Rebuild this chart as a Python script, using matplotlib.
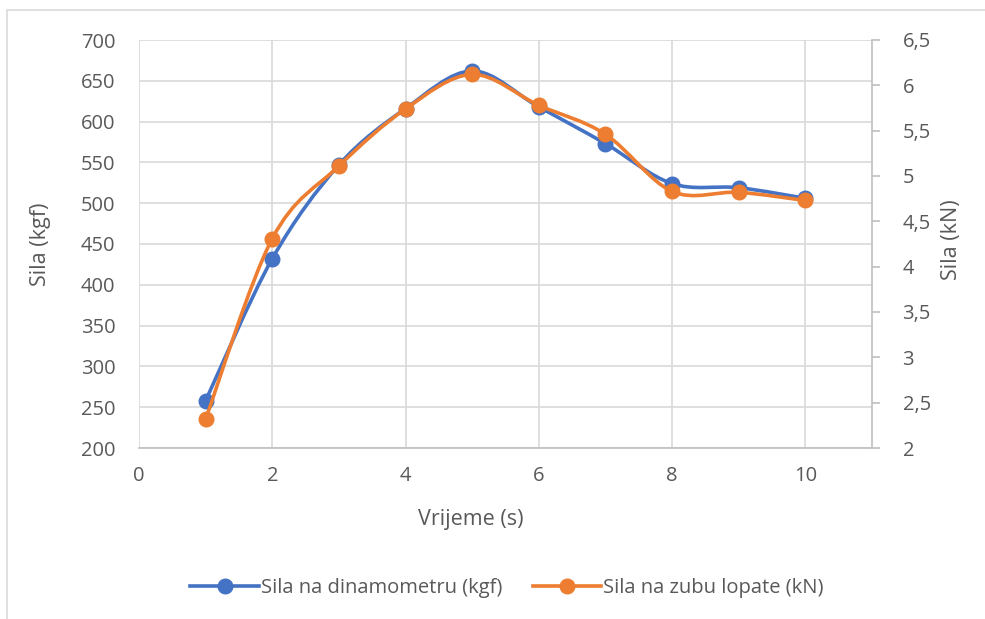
import numpy as np
import matplotlib
matplotlib.use('Agg')
import matplotlib.pyplot as plt
from matplotlib.path import Path
from matplotlib.patches import PathPatch, Rectangle
from matplotlib.lines import Line2D
from matplotlib.ticker import FuncFormatter

# Data
vrijeme = [1, 2, 3, 4, 5, 6, 7, 8, 9, 10]
sila_kgf = [258, 432, 547, 616, 662, 618, 573, 524, 519, 506]
sila_kn = [2.32, 4.31, 5.11, 5.74, 6.12, 5.78, 5.46, 4.83, 4.82, 4.73]

lbl_kgf = 'Sila na dinamometru (kgf)'
lbl_kn = 'Sila na zubu lopate (kN)'

BLUE = '#4472C4'
ORANGE = '#ED7D31'
GRID = '#D9D9D9'
TXT = '#595959'

plt.rcParams['font.family'] = ['Open Sans', 'DejaVu Sans']
plt.rcParams['font.size'] = 14.5


def smooth_path(x, y):
    """Excel-like smoothed line: cubic Bezier segments through the points."""
    pts = np.column_stack([x, y]).astype(float)
    n = len(pts)
    verts = [pts[0]]
    codes = [Path.MOVETO]
    for i in range(n - 1):
        p0 = pts[i - 1] if i > 0 else pts[i]
        p1 = pts[i]
        p2 = pts[i + 1]
        p3 = pts[i + 2] if i + 2 < n else pts[i + 1]
        c1 = p1 + (p2 - p0) / 6.0
        c2 = p2 - (p3 - p1) / 6.0
        verts += [c1, c2, p2]
        codes += [Path.CURVE4] * 3
    return Path(verts, codes)


fig = plt.figure(figsize=(9.85, 6.19), dpi=100)
ax1 = fig.add_axes([139 / 985, 1 - 448 / 619, (872 - 139) / 985, (448 - 40) / 619])
ax2 = ax1.twinx()

# outer chart frame
fig.patches.append(Rectangle((7 / 985, -0.2), 2, 1.2 - 10 / 619,
                             transform=fig.transFigure, fill=False,
                             edgecolor=GRID, lw=1.2))

# series
ax1.add_patch(PathPatch(smooth_path(vrijeme, sila_kgf), fill=False,
                        edgecolor=BLUE, lw=2.6, capstyle='round', zorder=3))
ax1.plot(vrijeme, sila_kgf, 'o', color=BLUE, ms=10.5, zorder=4)
ax2.add_patch(PathPatch(smooth_path(vrijeme, sila_kn), fill=False,
                        edgecolor=ORANGE, lw=2.6, capstyle='round', zorder=3))
ax2.plot(vrijeme, sila_kn, 'o', color=ORANGE, ms=10.5, zorder=4)

# axes
ax1.set_xlim(0, 11)
ax1.set_ylim(200, 700)
ax2.set_ylim(2, 6.5)
ax1.set_xticks(np.arange(0, 11, 2))
ax1.set_yticks(np.arange(200, 701, 50))
ax2.set_yticks(np.arange(2, 6.51, 0.5))
ax2.yaxis.set_major_formatter(FuncFormatter(lambda v, p: f'{v:g}'.replace('.', ',')))

ax1.grid(True, color=GRID, lw=1.2)
ax1.set_axisbelow(True)
for ax in (ax1, ax2):
    for s in ('top', 'left', 'right', 'bottom'):
        ax.spines[s].set_visible(False)
ax1.spines['bottom'].set_visible(True)
ax1.spines['bottom'].set_color('#BFBFBF')
ax1.spines['bottom'].set_linewidth(1.2)
ax2.spines['right'].set_visible(True)
ax2.spines['right'].set_color('#BFBFBF')
ax2.spines['right'].set_linewidth(1.2)

ax1.tick_params(axis='x', length=0, pad=13, colors=TXT)
ax1.tick_params(axis='y', length=0, pad=17, colors=TXT)
ax2.tick_params(axis='y', length=6, width=1.2, color='#BFBFBF', pad=16,
                labelcolor=TXT)

ax1.set_xlabel('Vrijeme (s)', color=TXT, fontsize=15.5)
ax1.xaxis.set_label_coords((471 - 139) / (872 - 139), -(520 - 448) / (448 - 40),
                           transform=ax1.transAxes)
ax1.xaxis.label.set_va('center')
ax1.set_ylabel('Sila (kgf)', color=TXT, fontsize=15.5)
ax1.yaxis.set_label_coords(-(139 - 41) / (872 - 139), (448 - 244) / (448 - 40))
ax1.yaxis.label.set_va('center')
ax2.set_ylabel('Sila (kN)', color=TXT, fontsize=15.5)
ax2.yaxis.set_label_coords(1 + (952 - 872) / (872 - 139), (448 - 240) / (448 - 40))
ax2.yaxis.label.set_va('center')

handles = [Line2D([], [], color=BLUE, lw=2.6, marker='o', ms=10.5),
           Line2D([], [], color=ORANGE, lw=2.6, marker='o', ms=10.5)]
fig.legend(handles, [lbl_kgf, lbl_kn], loc='center',
           bbox_to_anchor=(507 / 985, 1 - 588 / 619), ncol=2, frameon=False,
           handlelength=3.4, handletextpad=0.1, columnspacing=1.5,
           labelcolor=TXT, fontsize=14.5)

fig.savefig('out.png', dpi=100)
